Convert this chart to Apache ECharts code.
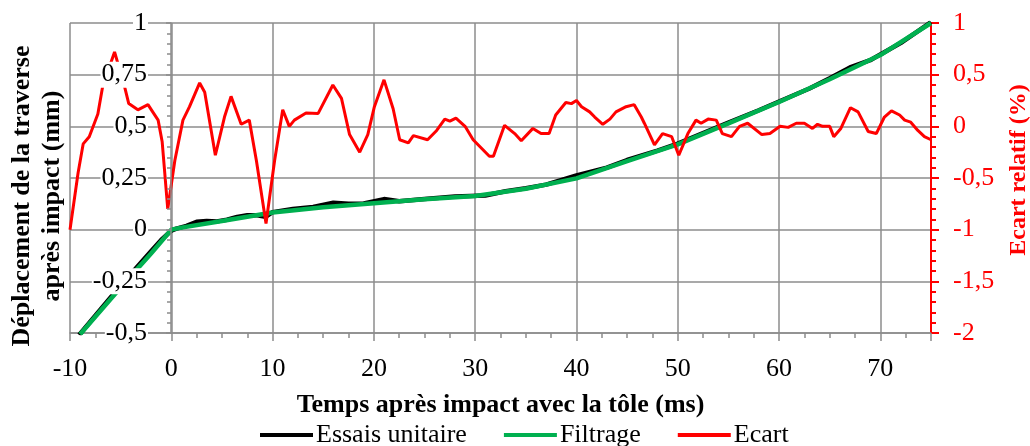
<!DOCTYPE html>
<html>
<head>
<meta charset="utf-8">
<script src="https://cdn.jsdelivr.net/npm/echarts@6/dist/echarts.min.js"></script>
<style>html,body{margin:0;padding:0;background:#fff}#chart{width:1030px;height:446px}</style>
</head>
<body>
<div id="chart"></div>
<script>
/* données */
var tEssai = [-9.1,-5,-2,-1,0,0.5,1.5,2.5,3.5,4.5,5.5,6.5,7.5,8.5,9.3,10,12,14,16,17.5,19,21,22.5,25,28,31,33,35,37,40,43,45,48,50,55,58,60,63,65,67,69,70,72,75];
var essai = [-0.51,-0.27,-0.105,-0.05,-0.005,0.005,0.018,0.038,0.042,0.04,0.048,0.062,0.07,0.07,0.062,0.085,0.1,0.11,0.13,0.125,0.127,0.148,0.138,0.148,0.16,0.165,0.186,0.2,0.218,0.262,0.3,0.337,0.382,0.416,0.518,0.578,0.62,0.683,0.733,0.785,0.82,0.848,0.903,1.004];

var tFiltre = [-9,-5,-2,0,1,5,10,15,20,25,30,35,40,45,50,55,60,65,70,75];
var filtre = [-0.506,-0.28,-0.115,0,0.01,0.042,0.083,0.108,0.128,0.147,0.163,0.198,0.248,0.332,0.413,0.514,0.618,0.728,0.845,1.0];

var tEcart = [-10,-9.2,-8.7,-8.1,-7.25,-6.75,-6.2,-5.6,-4.6,-4.2,-3.3,-2.3,-1.9,-1.3,-0.9,-0.35,0.35,1.15,1.8,2.8,3.3,4.35,5.25,5.9,6.9,7.7,8.4,9.35,10.2,11,11.65,12.15,13.3,14.5,15.95,16.8,17.6,18.6,19.4,20.05,21,21.9,22.55,23.4,23.9,25.3,26.2,27,27.5,28.1,29,29.8,30.6,31.4,31.8,32.9,33.9,34.55,35.7,36.5,37.3,37.95,38.95,39.5,40,40.5,41.3,41.8,42.6,43.3,43.9,44.9,45.7,46.4,46.7,47.7,48.5,49.4,50.1,51,51.8,52.3,53,53.8,54.4,55.3,56.1,56.9,58.3,59.1,60.1,60.9,61.7,62.5,63.3,63.8,64.3,65,65.4,66.1,67.05,67.8,68.8,69.6,70.4,71.1,71.9,72.4,73,73.7,74.35,75];
var ecart = [-1.0,-0.45,-0.17,-0.1,0.12,0.4,0.55,0.72,0.38,0.22,0.16,0.21,0.15,0.06,-0.15,-0.8,-0.33,0.06,0.19,0.42,0.33,-0.28,0.09,0.29,0.02,0.06,-0.33,-0.94,-0.33,0.16,0,0.06,0.13,0.125,0.4,0.27,-0.08,-0.25,-0.08,0.19,0.45,0.17,-0.13,-0.16,-0.09,-0.13,-0.04,0.07,0.05,0.08,0,-0.13,-0.21,-0.29,-0.29,0.01,-0.07,-0.14,-0.02,-0.07,-0.07,0.11,0.23,0.22,0.25,0.19,0.14,0.09,0.02,0.07,0.14,0.19,0.21,0.09,0.03,-0.18,-0.07,-0.1,-0.28,-0.07,0.06,0.03,0.07,0.06,-0.07,-0.1,0,0.03,-0.08,-0.07,0,-0.01,0.03,0.03,-0.02,0.02,0,0,-0.1,-0.02,0.18,0.14,-0.05,-0.07,0.09,0.15,0.11,0.06,0.04,-0.04,-0.1,-0.13];

var police = 'Liberation Serif';
var gris = '#8c8c8c';

function paires(t, v){
	var out = [];
	for(var i=0;i<t.length;i++){ out.push([t[i], v[i]]); }
	return out;
}
function virgule(v){
	return String(Math.round(v*100)/100).replace('.', ',');
}

var myChart = echarts.init(document.getElementById('chart'));
var option = {
	animation: false,
	backgroundColor: '#fff',
	grid: {left: 70, right: 99, top: 23, bottom: 113, containLabel: false, outerBoundsMode: 'none'},
	legend: {
		left: 255,
		top: 417,
		icon: 'rect',
		itemWidth: 53,
		itemHeight: 4,
		itemGap: 37,
		textStyle: {fontFamily: police, fontSize: 26, color: '#000', padding: [0, 0, 0, -2]},
		data: ['Essais unitaire','Filtrage','Ecart']
	},
	xAxis: {
		type: 'value',
		min: -10,
		max: 75,
		interval: 10,
		name: 'Temps après impact avec la tôle (ms)',
		nameLocation: 'middle',
		nameGap: 59,
		nameTextStyle: {fontFamily: police, fontSize: 26, fontWeight: 'bold', color: '#000'},
		axisLine: {onZero: false, lineStyle: {color: gris, width: 1.5}},
		axisTick: {show: true, length: 8, lineStyle: {color: gris, width: 1.5}},
		minorTick: {show: true, splitNumber: 4, length: 5, lineStyle: {color: gris, width: 1.5}},
		splitLine: {show: true, lineStyle: {color: gris, width: 1.5}},
		axisLabel: {showMaxLabel: false, margin: 23, fontFamily: police, fontSize: 26, color: '#000'}
	},
	yAxis: [
		{
			type: 'value',
			min: -0.5,
			max: 1,
			interval: 0.25,
			position: 'left',
			offset: -101,
			z: 5,
			name: 'Déplacement de la traverse\naprès impact (mm)',
			nameLocation: 'middle',
			nameRotate: 90,
			nameGap: 104,
			nameTextStyle: {fontFamily: police, fontSize: 26, fontWeight: 'bold', color: '#000', lineHeight: 30, padding: [0, 36, 0, 0]},
			axisLine: {onZero: false, lineStyle: {color: gris, width: 1.5}},
			axisTick: {show: true, length: 5, lineStyle: {color: gris, width: 1.5}},
			minorTick: {show: true, splitNumber: 5, length: 4, lineStyle: {color: gris, width: 1.5}},
			splitLine: {show: false},
			axisLabel: {margin: 23, fontFamily: police, fontSize: 26, color: '#000', backgroundColor: '#fff', padding: [0, 1], formatter: virgule}
		},
		{
			type: 'value',
			min: -2,
			max: 1,
			interval: 0.5,
			position: 'right',
			z: 0,
			name: 'Ecart relatif (%)',
			nameLocation: 'middle',
			nameRotate: 90,
			nameGap: 76,
			nameTextStyle: {fontFamily: police, fontSize: 24, fontWeight: 'bold', color: '#ff0000', padding: [0, 0, 0, 16]},
			axisLine: {onZero: false, lineStyle: {color: '#ff0000', width: 2}},
			axisTick: {show: true, length: 8, lineStyle: {color: '#ff0000', width: 2}},
			minorTick: {show: true, splitNumber: 5, length: 5, lineStyle: {color: '#ff0000', width: 2}},
			splitLine: {show: true, lineStyle: {color: gris, width: 1.5}},
			axisLabel: {margin: 22, fontFamily: police, fontSize: 26, color: '#ff0000', formatter: virgule}
		}
	],
	series: [
		{
			name: 'Essais unitaire',
			type: 'line',
			yAxisIndex: 0,
			symbol: 'none',
			lineStyle: {color: '#000', width: 4.5},
			itemStyle: {color: '#000'},
			data: paires(tEssai, essai)
		},
		{
			name: 'Filtrage',
			type: 'line',
			yAxisIndex: 0,
			symbol: 'none',
			lineStyle: {color: '#00b050', width: 4.5},
			itemStyle: {color: '#00b050'},
			data: paires(tFiltre, filtre)
		},
		{
			name: 'Ecart',
			type: 'line',
			yAxisIndex: 1,
			symbol: 'none',
			lineStyle: {color: '#ff0000', width: 3},
			itemStyle: {color: '#ff0000'},
			data: paires(tEcart, ecart)
		}
	]
};
myChart.setOption(option);
</script>
</body>
</html>
